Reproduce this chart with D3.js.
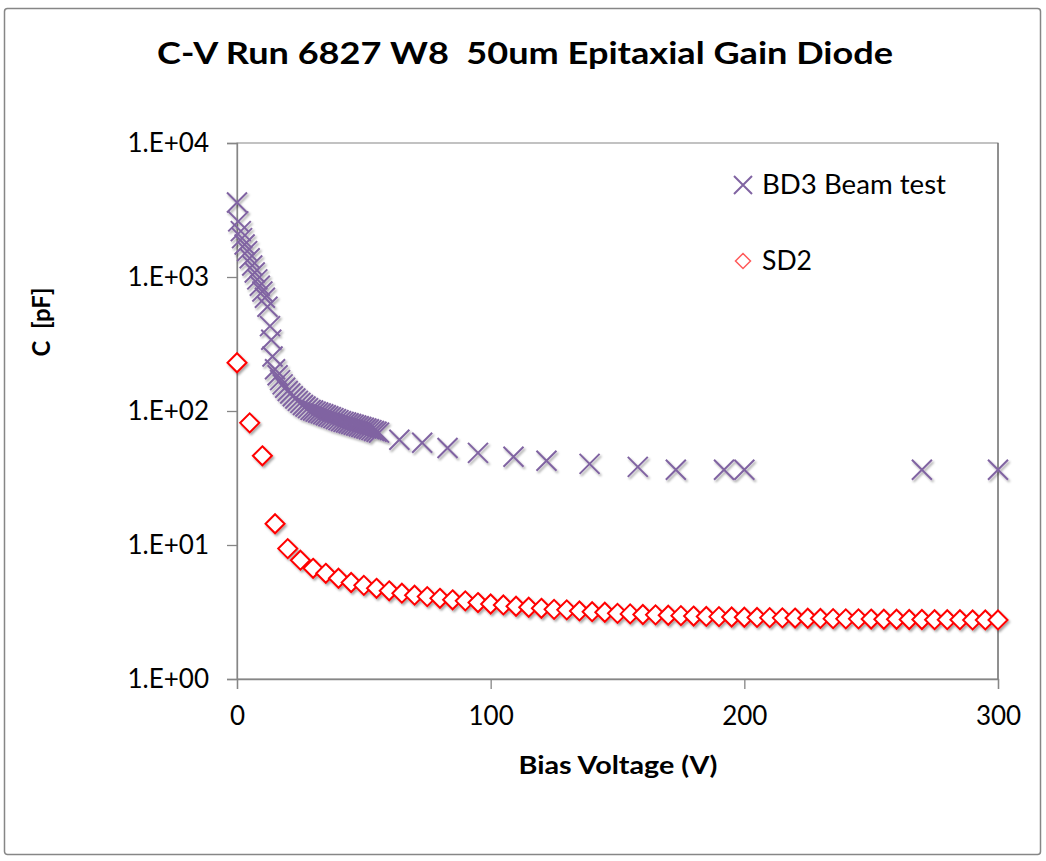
<!DOCTYPE html>
<html>
<head>
<meta charset="utf-8">
<script src="https://cdn.jsdelivr.net/npm/d3@7"></script>
<style>
  html, body { margin: 0; padding: 0; background: #fff; }
  svg { display: block; }
  text { font-family: Lato, "Open Sans", "DejaVu Sans", sans-serif; fill: #000; }
</style>
</head>
<body>
<script>
// ---------- data ----------
const chartTitle = "C-V Run 6827 W8  50um Epitaxial Gain Diode";
const xTitle = "Bias Voltage (V)";
const yTitle = "C  [pF]";
const seriesNames = ["BD3 Beam test", "SD2"];

const bd3Voltage = [0, 0.5, 1.5, 2, 3, 4, 5, 6, 7, 8, 9, 10, 11, 12, 13, 13.5, 14, 15,
  16, 17, 18, 19, 20, 21, 22, 23, 24, 25, 26, 27, 28, 29, 30, 31, 32, 33, 34, 35,
  36, 37, 38, 39, 40, 41, 42, 43, 44, 45, 46, 47, 48, 49, 50, 51, 52, 53, 54, 55, 56,
  64, 73, 83, 95, 109, 122, 139, 158, 173, 192, 200, 270, 300];
const bd3Cap = [3600, 2600, 2200, 1950, 1750, 1560, 1380, 1220, 1080, 960, 860, 780, 700, 600, 430, 340, 255, 205,
  185, 170, 158, 149, 141, 135, 129, 124, 119, 115, 111, 108, 105, 102, 101, 99, 97.5, 96, 94.5, 93,
  91.5, 90, 88.5, 87, 85.5, 84, 83, 82, 81, 80, 79, 78, 77, 76, 75, 74, 73, 72, 71, 70, 69,
  61, 58, 53, 48.7, 45.5, 42.5, 40.3, 38.3, 36.4, 36.4, 36.4, 36.4, 36.4];

const sd2Voltage = [0, 5, 10, 15, 20, 25, 30, 35, 40, 45, 50, 55, 60, 65, 70, 75, 80, 85, 90, 95,
  100, 105, 110, 115, 120, 125, 130, 135, 140, 145, 150, 155, 160, 165, 170, 175, 180, 185, 190, 195,
  200, 205, 210, 215, 220, 225, 230, 235, 240, 245, 250, 255, 260, 265, 270, 275, 280, 285, 290, 295, 300];
const sd2Cap = [229, 81.6, 46.3, 14.4, 9.4, 7.7, 6.7, 6.15, 5.65, 5.25, 5.0, 4.75, 4.55, 4.37, 4.22, 4.12, 4.0, 3.9, 3.83, 3.72,
  3.63, 3.57, 3.49, 3.43, 3.37, 3.31, 3.28, 3.22, 3.18, 3.15, 3.09, 3.06, 3.03, 3.01, 2.99, 2.97, 2.95, 2.93, 2.92, 2.90,
  2.89, 2.88, 2.87, 2.86, 2.85, 2.84, 2.83, 2.82, 2.81, 2.81, 2.80, 2.79, 2.79, 2.78, 2.78, 2.77, 2.77, 2.77, 2.76, 2.76, 2.76];

const xTickValues = [0, 100, 200, 300];
const xTickLabels = ["0", "100", "200", "300"];
const yTickValues = [1, 10, 100, 1000, 10000];
const yTickLabels = ["1.E+00", "1.E+01", "1.E+02", "1.E+03", "1.E+04"];

// ---------- layout ----------
const W = 1046, H = 861;
const plot = { left: 237, right: 998, top: 143, bottom: 679 };
const purple = "#8064A2", red = "#FF0000", axisGray = "#868686";

const svg = d3.select("body").append("svg").attr("width", W).attr("height", H);

const defs = svg.append("defs");
const f = defs.append("filter").attr("id", "shadow")
  .attr("x", "-50%").attr("y", "-50%").attr("width", "200%").attr("height", "200%");
f.append("feDropShadow").attr("dx", 1.5).attr("dy", 2).attr("stdDeviation", 1.2)
  .attr("flood-color", "#000").attr("flood-opacity", 0.35);

// outer chart border
svg.append("rect").attr("x", 4.5).attr("y", 8.5).attr("width", 1036).attr("height", 846)
  .attr("rx", 3).attr("fill", "#fff").attr("stroke", axisGray).attr("stroke-width", 1.5);

const x = d3.scaleLinear().domain([0, 300]).range([plot.left, plot.right]);
const y = d3.scaleLog().domain([1, 10000]).range([plot.bottom, plot.top]);

// plot area box
svg.append("rect").attr("x", plot.left).attr("y", plot.top)
  .attr("width", plot.right - plot.left).attr("height", plot.bottom - plot.top)
  .attr("fill", "none").attr("stroke", axisGray).attr("stroke-width", 1);
svg.append("line").attr("x1", plot.right).attr("x2", plot.right)
  .attr("y1", plot.top).attr("y2", plot.bottom).attr("stroke", "#6e6e6e").attr("stroke-width", 1.2);

// axes
const yAxis = d3.axisLeft(y).tickValues(yTickValues)
  .tickFormat((d, i) => yTickLabels[i]).tickSize(10).tickPadding(18);
const gy = svg.append("g").attr("transform", `translate(${plot.left},0)`).call(yAxis);
const xAxis = d3.axisBottom(x).tickValues(xTickValues)
  .tickFormat((d, i) => xTickLabels[i]).tickSize(10).tickPadding(18);
const gx = svg.append("g").attr("transform", `translate(0,${plot.bottom})`).call(xAxis);
[gx, gy].forEach(g => {
  g.select(".domain").attr("stroke", axisGray).attr("stroke-width", 1.3);
  g.selectAll(".tick line").attr("stroke", axisGray).attr("stroke-width", 1.3);
  g.selectAll(".tick text").attr("font-size", 26).attr("font-family", "Lato, sans-serif").attr("fill", "#000");
});

// series: BD3 (X markers)
const xm = 10;
svg.append("g").attr("filter", "url(#shadow)")
  .selectAll("path").data(bd3Voltage.map((v, i) => [v, bd3Cap[i]])).join("path")
  .attr("d", d => {
    const cx = x(d[0]), cy = y(d[1]);
    return `M${cx - xm},${cy - xm}L${cx + xm},${cy + xm}M${cx - xm},${cy + xm}L${cx + xm},${cy - xm}`;
  })
  .attr("fill", "none").attr("stroke", purple).attr("stroke-width", 2);

// series: SD2 (diamond markers)
const dm = 9.5;
svg.append("g").attr("filter", "url(#shadow)")
  .selectAll("path").data(sd2Voltage.map((v, i) => [v, sd2Cap[i]])).join("path")
  .attr("d", d => {
    const cx = x(d[0]), cy = y(d[1]);
    return `M${cx},${cy - dm}L${cx + dm},${cy}L${cx},${cy + dm}L${cx - dm},${cy}Z`;
  })
  .attr("fill", "#fff").attr("stroke", red).attr("stroke-width", 2);

// legend
const lg = svg.append("g");
const lx = 743, ly1 = 185, ly2 = 261;
lg.append("path")
  .attr("d", `M${lx - 9},${ly1 - 9}L${lx + 9},${ly1 + 9}M${lx - 9},${ly1 + 9}L${lx + 9},${ly1 - 9}`)
  .attr("stroke", purple).attr("stroke-width", 2).attr("fill", "none");
lg.append("path")
  .attr("d", `M${lx},${ly2 - 7.5}L${lx + 7.5},${ly2}L${lx},${ly2 + 7.5}L${lx - 7.5},${ly2}Z`)
  .attr("stroke", "#FF5A5A").attr("stroke-width", 1.5).attr("fill", "#fff");
lg.append("text").attr("x", 762).attr("y", ly1).attr("dy", "0.35em")
  .attr("font-size", 26).attr("textLength", 184).attr("lengthAdjust", "spacingAndGlyphs")
  .text(seriesNames[0]);
lg.append("text").attr("x", 762).attr("y", ly2).attr("dy", "0.35em")
  .attr("font-size", 26).attr("textLength", 50).attr("lengthAdjust", "spacingAndGlyphs")
  .text(seriesNames[1]);

// titles
svg.append("text").attr("x", 525).attr("y", 64).attr("text-anchor", "middle")
  .attr("font-size", 30).attr("font-weight", "bold")
  .attr("xml:space", "preserve").style("white-space", "pre")
  .attr("textLength", 736).attr("lengthAdjust", "spacingAndGlyphs").text(chartTitle);
svg.append("text").attr("x", 618).attr("y", 765).attr("dy", "0.35em").attr("text-anchor", "middle")
  .attr("font-size", 25).attr("font-weight", "bold")
  .attr("textLength", 199).attr("lengthAdjust", "spacingAndGlyphs").text(xTitle);
svg.append("text").attr("transform", "translate(42,322) rotate(-90)").attr("dy", "0.35em")
  .attr("text-anchor", "middle").attr("font-size", 24).attr("font-weight", "bold")
  .attr("xml:space", "preserve").style("white-space", "pre").text(yTitle);
</script>
</body>
</html>
